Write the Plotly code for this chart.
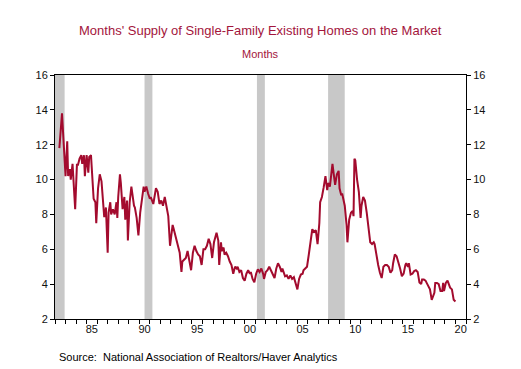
import plotly.graph_objects as go

# ---- data ----
dates = [
    "1982-06", "1982-08", "1982-09", "1982-11", "1983-01", "1983-03", "1983-04", "1983-06", "1983-07", "1983-09",
    "1983-12", "1984-02", "1984-03", "1984-05", "1984-07", "1984-08", "1984-10", "1984-11", "1985-01", "1985-03",
    "1985-04", "1985-06", "1985-07", "1985-09", "1985-11", "1985-12", "1986-02", "1986-04", "1986-06", "1986-07",
    "1986-09", "1986-10", "1986-11", "1987-01", "1987-02", "1987-04", "1987-05", "1987-07", "1987-09", "1987-11",
    "1987-12", "1988-01", "1988-03", "1988-04", "1988-06", "1988-08", "1988-09", "1988-11", "1988-12", "1989-02",
    "1989-04", "1989-07", "1989-08", "1989-10", "1989-12", "1990-02", "1990-04", "1990-06", "1990-07", "1990-09",
    "1990-11", "1991-01", "1991-02", "1991-05", "1991-06", "1991-08", "1991-10", "1991-12", "1992-02", "1992-04",
    "1992-06", "1992-08", "1992-10", "1992-12", "1993-03", "1993-04", "1993-07", "1993-08", "1993-11", "1994-01",
    "1994-02", "1994-04", "1994-06", "1994-08", "1994-10", "1994-12", "1995-02", "1995-04", "1995-06", "1995-08",
    "1995-10", "1995-12", "1996-02", "1996-04", "1996-06", "1996-08", "1996-10", "1996-12", "1997-02", "1997-04",
    "1997-05", "1997-07", "1997-08", "1997-10", "1997-11", "1998-01", "1998-02", "1998-04", "1998-06", "1998-08",
    "1998-10", "1998-12", "1999-02", "1999-04", "1999-05", "1999-07", "1999-09", "1999-11", "2000-01", "2000-03",
    "2000-05", "2000-07", "2000-08", "2000-10", "2000-12", "2001-02", "2001-04", "2001-06", "2001-08", "2001-10",
    "2001-11", "2002-01", "2002-03", "2002-05", "2002-07", "2002-09", "2002-11", "2003-01", "2003-03", "2003-05",
    "2003-07", "2003-08", "2003-11", "2004-01", "2004-03", "2004-05", "2004-07", "2004-09", "2004-11", "2005-01",
    "2005-03", "2005-05", "2005-07", "2005-08", "2005-10", "2005-12", "2006-02", "2006-04", "2006-06", "2006-08",
    "2006-10", "2006-12", "2007-02", "2007-03", "2007-05", "2007-07", "2007-09", "2007-11", "2007-12", "2008-02",
    "2008-04", "2008-05", "2008-07", "2008-08", "2008-10", "2008-12", "2009-01", "2009-03", "2009-04", "2009-06",
    "2009-07", "2009-09", "2009-10", "2009-12", "2010-02", "2010-04", "2010-05", "2010-06", "2010-07", "2010-09",
    "2010-11", "2011-01", "2011-02", "2011-04", "2011-06", "2011-08", "2011-10", "2011-12", "2012-02", "2012-04",
    "2012-05", "2012-07", "2012-09", "2012-11", "2013-01", "2013-03", "2013-05", "2013-07", "2013-09", "2013-11",
    "2014-01", "2014-02", "2014-04", "2014-06", "2014-08", "2014-10", "2014-12", "2015-02", "2015-04", "2015-05",
    "2015-07", "2015-08", "2015-10", "2015-12", "2016-02", "2016-04", "2016-06", "2016-08", "2016-10", "2016-11",
    "2017-01", "2017-03", "2017-05", "2017-08", "2017-10", "2018-01", "2018-02", "2018-04", "2018-06", "2018-08",
    "2018-10", "2018-11", "2018-12", "2019-02", "2019-04", "2019-05", "2019-07", "2019-09", "2019-11", "2020-01",
]
supply = [
    11.8, 13.6, 13.8, 12.0, 10.2, 12.2, 10.2, 10.6, 10.0, 10.9,
    8.3, 10.9, 10.8, 11.2, 11.4, 10.9, 11.4, 10.2, 11.4, 10.4,
    11.3, 11.4, 10.7, 8.9, 8.7, 7.5, 9.5, 10.3, 9.9, 9.0,
    7.9, 7.9, 8.4, 5.8, 8.1, 8.7, 8.0, 8.3, 8.0, 8.7,
    7.8, 9.0, 10.3, 9.8, 8.3, 9.0, 7.7, 8.8, 6.5, 8.7,
    9.6, 8.5, 8.4, 7.8, 6.8, 8.1, 9.0, 9.6, 9.3, 9.6,
    9.2, 8.9, 9.0, 8.6, 8.9, 9.5, 9.3, 8.6, 8.8, 8.5,
    9.0, 8.5, 7.9, 6.2, 7.4, 7.2, 6.6, 6.4, 5.8, 4.7,
    5.3, 5.4, 5.5, 5.9, 5.4, 4.8, 5.8, 6.2, 5.9, 5.7,
    5.6, 5.1, 6.0, 6.0, 6.2, 6.6, 6.3, 5.5, 6.4, 6.8,
    6.95, 6.5, 5.1, 6.4, 5.9, 6.1, 5.7, 5.8, 5.6, 5.3,
    5.1, 4.6, 5.0, 4.9, 5.0, 4.7, 4.8, 4.35, 4.2, 4.6,
    4.8, 4.6, 4.7, 4.3, 4.1, 4.6, 4.85, 4.7, 4.9, 4.6,
    4.3, 4.7, 4.8, 5.0, 4.8, 4.6, 4.35, 4.9, 5.2, 5.0,
    4.7, 4.9, 4.45, 4.5, 4.3, 4.5, 4.3, 4.4, 4.1, 3.7,
    4.3, 4.55, 4.6, 4.8, 4.9, 5.0, 5.7, 6.6, 7.15, 7.0,
    7.1, 6.3, 7.5, 8.7, 9.0, 9.55, 10.2, 9.4, 9.8, 9.6,
    10.7, 10.9, 10.1, 9.7, 10.3, 10.5, 9.5, 9.1, 9.2, 8.8,
    8.5, 7.4, 6.4, 7.7, 8.1, 8.2, 7.9, 11.2, 11.1, 10.0,
    9.3, 7.8, 8.5, 9.0, 8.8, 8.1, 7.3, 6.4, 6.3, 6.4,
    6.3, 5.6, 5.1, 4.65, 4.35, 5.0, 5.1, 5.1, 5.0, 4.65,
    4.8, 5.2, 5.7, 5.6, 5.3, 4.9, 4.45, 4.6, 5.1, 5.2,
    5.0, 5.2, 4.55, 4.6, 4.75, 4.8, 4.7, 4.1, 4.0, 4.26,
    4.26, 4.2, 4.0, 3.7, 3.1, 3.5, 4.07, 4.07, 4.0, 3.6,
    3.6, 4.07, 3.6, 4.07, 4.2, 4.1, 3.8, 3.7, 3.1, 3.0,
]

recession_starts = ["1981-07-01", "1990-07-01", "2001-03-01", "2007-12-01"]
recession_ends = ["1982-11-30", "1991-03-31", "2001-11-30", "2009-06-30"]

tick_years = [1985, 1990, 1995, 2000, 2005, 2010, 2015, 2020]
tick_labels = ["85", "90", "95", "00", "05", "10", "15", "20"]
y_ticks = [2, 4, 6, 8, 10, 12, 14, 16]

title_text = "Months' Supply of Single-Family Existing Homes on the Market"
subtitle_text = "Months"
source_text = "Source:  National Association of Realtors/Haver Analytics"

# ---- figure ----
W, H = 521, 369
ML, MR, MT, MB = 55, 55, 75, 50
X_START, X_END = "1982-01-01", "2021-01-01"
LINE_COLOR = "#a30b2e"
TITLE_COLOR = "#a3153c"
FONT = "Liberation Sans, Arial, sans-serif"

x_dates = [d + "-01" for d in dates]

fig = go.Figure()
fig.add_trace(go.Scatter(x=x_dates, y=supply, mode="lines",
                         line=dict(color=LINE_COLOR, width=2), hoverinfo="skip",
                         showlegend=False))
# invisible copy to activate the right-hand axis
fig.add_trace(go.Scatter(x=x_dates, y=supply, mode="lines", yaxis="y2",
                         line=dict(color="rgba(0,0,0,0)", width=0), hoverinfo="skip",
                         showlegend=False))

for s, e in zip(recession_starts, recession_ends):
    s_clip = max(s, X_START)
    fig.add_shape(type="rect", xref="x", yref="paper", x0=s_clip, x1=e, y0=0, y1=1,
                  fillcolor="#c8c8c8", line=dict(width=0), layer="below")

axis_common = dict(range=[2, 16], tickvals=y_ticks, ticks="outside", ticklen=4,
                   tickcolor="black", showgrid=False, zeroline=False,
                   showline=True, linecolor="black", linewidth=1,
                   tickfont=dict(family=FONT, size=11, color="#111"))

plot_w = W - ML - MR
plot_h = H - MT - MB
def px_x(px):
    return (px - ML) / plot_w
def px_y(py):
    return (H - MB - py) / plot_h

fig.update_layout(
    width=W, height=H,
    margin=dict(l=ML, r=MR, t=MT, b=MB),
    paper_bgcolor="white", plot_bgcolor="white",
    font=dict(family=FONT, color="#111"),
    xaxis=dict(type="date", range=[X_START, X_END],
               tickvals=[f"{y}-07-01" for y in tick_years], ticktext=tick_labels,
               ticks="", showgrid=False, zeroline=False,
               showline=True, linecolor="black", linewidth=1, mirror=True,
               tickfont=dict(family=FONT, size=11, color="#111"),
               minor=dict(ticks="outside", dtick="M12", tick0="1982-01-01",
                          ticklen=4, tickcolor="black", showgrid=False)),
    yaxis=dict(side="left", **axis_common),
    yaxis2=dict(side="right", overlaying="y", **axis_common),
    annotations=[
        dict(text=title_text, x=px_x(260.5), xref="paper", y=px_y(30), yref="paper",
             showarrow=False, yanchor="middle",
             font=dict(family=FONT, size=13, color=TITLE_COLOR)),
        dict(text=subtitle_text, x=px_x(260.5), xref="paper", y=px_y(54), yref="paper",
             showarrow=False, yanchor="middle",
             font=dict(family=FONT, size=11, color=TITLE_COLOR)),
        dict(text=source_text, x=px_x(57), xref="paper", y=px_y(357), yref="paper",
             showarrow=False, xanchor="left", yanchor="middle",
             font=dict(family=FONT, size=11, color="black")),
    ],
)

fig.write_html("out.html", config={"displayModeBar": False},
               post_script="document.body.style.margin='0px';document.body.style.overflow='hidden';")
